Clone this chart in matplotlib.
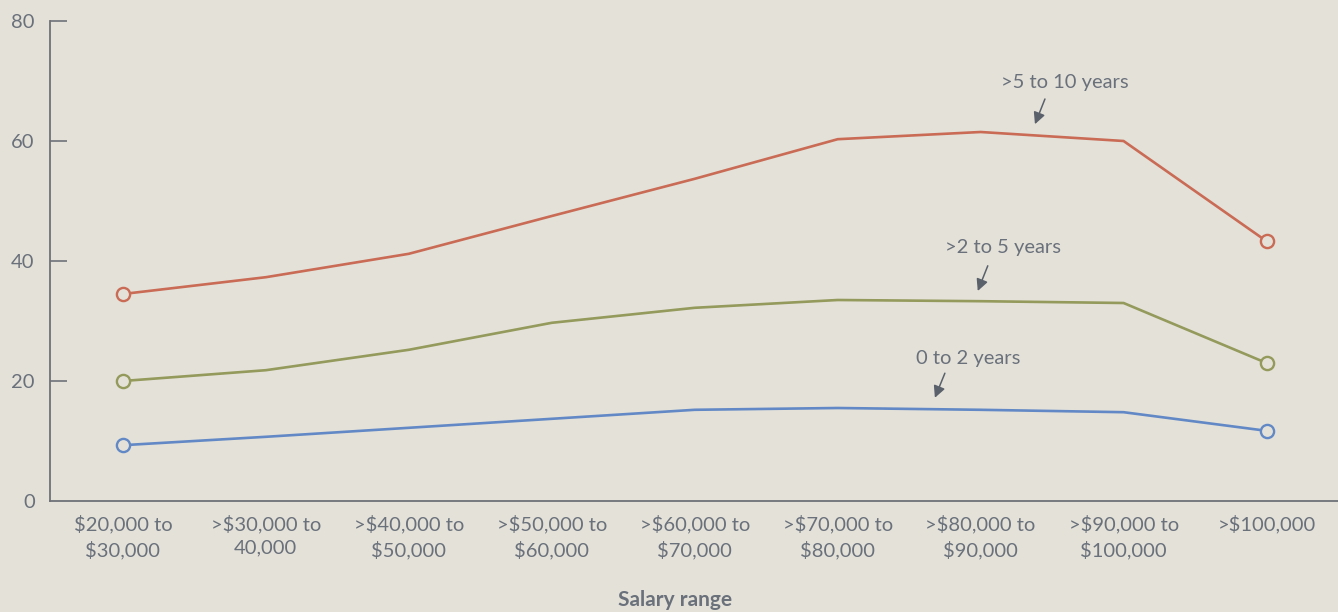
import matplotlib
matplotlib.use("Agg")
import numpy as np
from matplotlib import pyplot as plt

categories = ["$20,000 to\n$30,000", ">$30,000 to\n40,000", ">$40,000 to\n$50,000",
              ">$50,000 to\n$60,000", ">$60,000 to\n$70,000", ">$70,000 to\n$80,000",
              ">$80,000 to\n$90,000", ">$90,000 to\n$100,000", ">$100,000"]
yrs_5_10 = [34.5, 37.3, 41.2, 47.5, 53.7, 60.3, 61.5, 60.0, 43.3]
yrs_2_5 = [20.0, 21.8, 25.2, 29.7, 32.2, 33.5, 33.3, 33.0, 23.0]
yrs_0_2 = [9.3, 10.7, 12.2, 13.7, 15.2, 15.5, 15.2, 14.8, 11.7]
yticks = [0, 20, 40, 60, 80]

bg = "#e4e1d9"
txt = "#6a717b"
plt.rcParams['font.family'] = ['Lato', 'DejaVu Sans']

fig = plt.figure(figsize=(13.38, 6.12), dpi=100, facecolor=bg)
ax = fig.add_axes([50 / 1338, 111 / 612, 1288 / 1338, 480 / 612])
ax.set_facecolor(bg)

x = np.arange(len(categories))
series = [(yrs_5_10, "#c96b55"), (yrs_2_5, "#939a5b"), (yrs_0_2, "#6289c5")]
for vals, col in series:
    ax.plot(x, vals, color=col, lw=1.9, zorder=2)
    ends = [0, len(vals) - 1]
    ax.plot(x[ends], np.array(vals)[ends], 'o', ms=9.5, mfc=bg, mec=col, mew=1.7, zorder=3)

ax.set_xlim(-0.51, 8.5)
ax.set_ylim(0, 80)
ax.set_xticks(x)
ax.set_xticklabels(categories, fontsize=14.5, color=txt, linespacing=1.45)
ax.tick_params(axis='x', length=0, pad=10)
ax.set_yticks(yticks)
ax.set_yticklabels([str(v) for v in yticks], fontsize=14.5, color=txt)
ax.tick_params(axis='y', direction='in', length=12, width=1.2, color="#6e7278", pad=11)
ax.yaxis.get_major_ticks()[0].tick1line.set_visible(False)

for s in ['top', 'right']:
    ax.spines[s].set_visible(False)
for s in ['left', 'bottom']:
    ax.spines[s].set_color("#6e7278")
    ax.spines[s].set_linewidth(1.3)

# labels with arrows
notes = [(">5 to 10 years", (6.59, 69.7), (6.45, 67.0), (6.38, 62.8)),
         (">2 to 5 years", (6.16, 42.2), (6.05, 39.2), (5.98, 35.0)),
         ("0 to 2 years", (5.91, 23.8), (5.75, 21.3), (5.68, 17.2))]
for label, tpos, a0, a1 in notes:
    ax.text(tpos[0], tpos[1], label, fontsize=14.5, color=txt, ha='center', va='center')
    ax.annotate("", xy=a1, xytext=a0,
                arrowprops=dict(arrowstyle="-|>,head_length=0.7,head_width=0.35",
                                color="#5a616b", lw=1.1, shrinkA=0, shrinkB=0))

fig.text(675 / 1338, 1 - 600 / 612, "Salary range", fontsize=15, fontweight='bold',
         color=txt, ha='center', va='center')

fig.savefig("out.png", dpi=100, facecolor=bg)
